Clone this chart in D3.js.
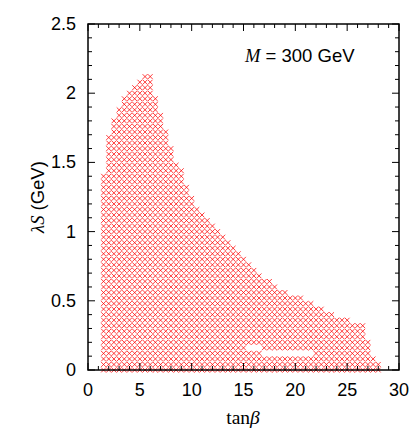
<!DOCTYPE html>
<html><head><meta charset="utf-8">
<script src="https://cdn.jsdelivr.net/npm/d3@7"></script>
<style>body{margin:0;background:#fff}svg{display:block}</style>
</head><body>
<script>
// tanβ columns of the scan and the highest λS reached in each column
const tanBeta = [1.5,2,2.5,3,3.5,4,4.5,5,5.5,6,6.5,7,7.5,8,8.5,9,9.5,10,10.5,11,11.5,12,12.5,13,13.5,14,14.5,15,15.5,16,16.5,17,17.5,18,18.5,19,19.5,20,20.5,21,21.5,22,22.5,23,23.5,24,24.5,25,25.5,26,26.5,27,27.5,28];
const lambdaSMax = [1.42,1.69,1.81,1.90,1.96,2.00,2.04,2.08,2.12,2.14,1.96,1.86,1.72,1.61,1.51,1.44,1.33,1.26,1.18,1.15,1.10,1.06,1.02,0.98,0.94,0.90,0.86,0.82,0.78,0.74,0.70,0.66,0.64,0.62,0.58,0.57,0.55,0.53,0.52,0.50,0.48,0.46,0.45,0.42,0.41,0.39,0.38,0.37,0.34,0.34,0.34,0.22,0.11,0.04];
const lambdaSStep = 0.04;
// points missing from the scan (tanβ, λS)
const missingTan = [15.5,16,16.5,17,17.5,18,18.5,19,19.5,20,20.5,21,21.5];
const missingLam = [0.16,0.16,0.16,0.12,0.12,0.12,0.12,0.12,0.12,0.12,0.12,0.12,0.12];
const xTicks = [0,5,10,15,20,25,30];
const yTicks = [0,0.5,1,1.5,2,2.5];
const yTickLabels = ["0","0.5","1","1.5","2","2.5"];

const W=409,H=429, L=88, T=24, R=399, B=370;
const svg=d3.select("body").append("svg").attr("width",W).attr("height",H);
const x=d3.scaleLinear().domain([0,30]).range([L,R]);
const y=d3.scaleLinear().domain([0,2.5]).range([B,T]);

// build scan points
const missing=new Set(missingTan.map((t,i)=>t+"_"+Math.round(missingLam[i]/lambdaSStep)));
const pts=[];
tanBeta.forEach((t,i)=>{
  const n=Math.floor(lambdaSMax[i]/lambdaSStep+0.01);
  for(let k=0;k<=n;k++){ if(!missing.has(t+"_"+k)) pts.push([t,k*lambdaSStep]); }
});
const s=2.4;
svg.append("g").selectAll("path").data(pts).join("path")
  .attr("d",d=>{const px=x(d[0]),py=y(d[1]);return `M${px-s},${py-s}L${px+s},${py+s}M${px-s},${py+s}L${px+s},${py-s}`;})
  .attr("stroke","#ff0000").attr("stroke-width",0.9).attr("fill","none").attr("stroke-opacity",0.85);

// axes (ticks inward)
const minorX=d3.range(0,31,1), minorY=d3.range(0,2.501,0.1);
const g=svg.append("g").attr("stroke","#000").attr("stroke-width",1);
minorX.forEach(v=>{const len=xTicks.includes(v)?7:4;
  g.append("line").attr("x1",x(v)).attr("x2",x(v)).attr("y1",B).attr("y2",B-len);
  g.append("line").attr("x1",x(v)).attr("x2",x(v)).attr("y1",T).attr("y2",T+len);});
minorY.forEach(v=>{const major=yTicks.some(t=>Math.abs(t-v)<1e-6);const len=major?7:4;
  g.append("line").attr("x1",L).attr("x2",L+len).attr("y1",y(v)).attr("y2",y(v));
  g.append("line").attr("x1",R).attr("x2",R-len).attr("y1",y(v)).attr("y2",y(v));});
svg.append("rect").attr("x",L).attr("y",T).attr("width",R-L).attr("height",B-T)
  .attr("fill","none").attr("stroke","#000").attr("stroke-width",1.5);

const sans="Liberation Sans, Arial, Helvetica, sans-serif", serif="Liberation Serif, Times New Roman, serif";
svg.append("g").selectAll("text").data(xTicks).join("text")
  .attr("x",d=>x(d)).attr("y",396).attr("text-anchor","middle")
  .attr("font-family",sans).attr("font-size",18).text(d=>d);
svg.append("g").selectAll("text").data(yTicks).join("text")
  .attr("x",76).attr("y",d=>y(d)+6).attr("text-anchor","end")
  .attr("font-family",sans).attr("font-size",18).text((d,i)=>yTickLabels[i]);

const xl=svg.append("text").attr("x",243).attr("y",424).attr("text-anchor","middle")
  .attr("font-family",serif).attr("font-size",19.5);
xl.append("tspan").text("tan");
xl.append("tspan").attr("font-style","italic").text("β");

const yl=svg.append("text").attr("transform","translate(44,197) rotate(-90)").attr("text-anchor","middle")
  .attr("font-size",18.5);
yl.append("tspan").attr("font-family",serif).attr("font-style","italic").text("λS");
yl.append("tspan").attr("font-family",sans).text(" (GeV)");

const ml=svg.append("text").attr("x",245).attr("y",62).attr("font-size",18.5);
ml.append("tspan").attr("font-family",serif).attr("font-style","italic").text("M");
ml.append("tspan").attr("font-family",sans).text(" = 300 GeV");
</script>
</body></html>
